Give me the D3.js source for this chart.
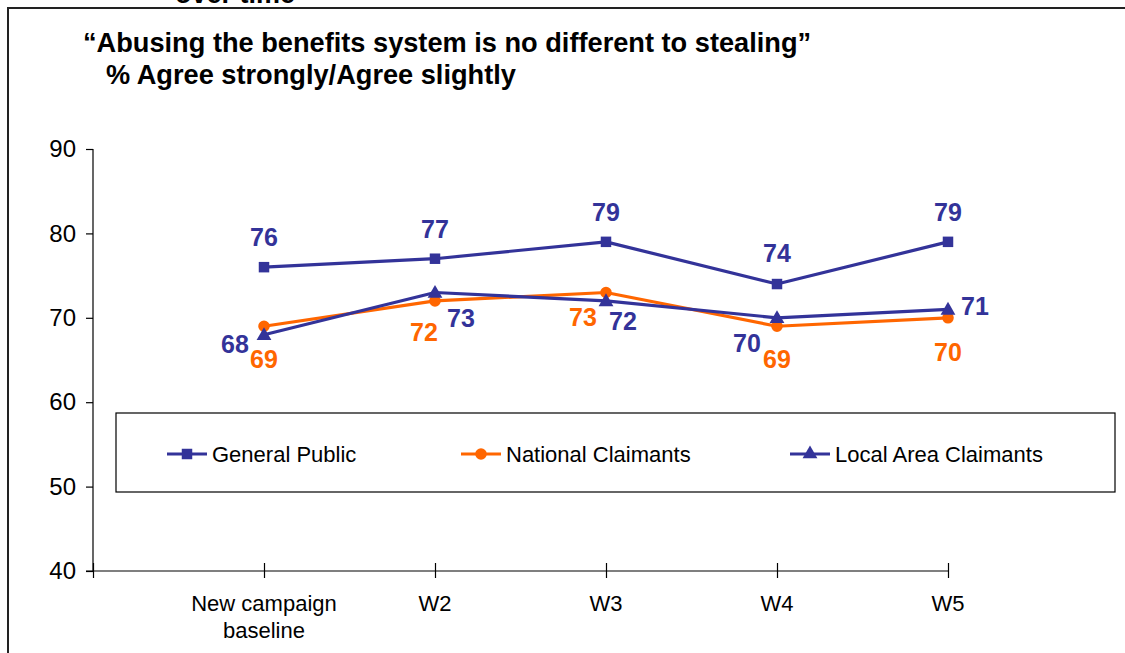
<!DOCTYPE html>
<html>
<head>
<meta charset="utf-8">
<script src="https://cdn.jsdelivr.net/npm/d3@7"></script>
<style>
  html, body { margin: 0; padding: 0; background: #fff; }
  svg { display: block; }
  text { font-family: "Liberation Sans", Arial, sans-serif; }
</style>
</head>
<body>
<svg id="chart" width="1125" height="653"></svg>
<script>
// Survey waves and % agreeing per audience
const categories = ["New campaign baseline", "W2", "W3", "W4", "W5"];
const generalPublic = [76, 77, 79, 74, 79];
const nationalClaimants = [69, 72, 73, 69, 70];
const localAreaClaimants = [68, 73, 72, 70, 71];
const yTicks = [40, 50, 60, 70, 80, 90];
const seriesNames = ["General Public", "National Claimants", "Local Area Claimants"];

// Label placement offsets (dx, dy) relative to each point
const gpLabelOffsets = [[0, -30], [0, -30], [0, -30], [0, -31], [0, -30]];
const ncLabelOffsets = [[0, 33], [-11, 31], [-23, 25], [0, 33], [0, 34]];
const laLabelOffsets = [[-29, 9], [26, 26], [17, 20], [-30, 25], [27, -3]];

const NAVY = "#333399";
const ORANGE = "#FF6600";

const svg = d3.select("#chart");

// Slide frame and the clipped heading above it
svg.append("text")
  .attr("x", 175).attr("y", 3)
  .attr("font-size", 27).attr("font-weight", "bold")
  .attr("fill", "#000")
  .text("over time");

svg.append("rect")
  .attr("x", 8).attr("y", 8)
  .attr("width", 1130).attr("height", 660)
  .attr("fill", "none").attr("stroke", "#222").attr("stroke-width", 2);

// Chart titles
svg.append("text")
  .attr("x", 83).attr("y", 52)
  .attr("font-size", 27.2).attr("font-weight", "bold")
  .text("\u201CAbusing the benefits system is no different to stealing\u201D");
svg.append("text")
  .attr("x", 106).attr("y", 84)
  .attr("font-size", 27.2).attr("font-weight", "bold")
  .text("% Agree strongly/Agree slightly");

// Scales: slot 0 is the empty leading position on the category axis
const x = d3.scaleLinear().domain([0, categories.length]).range([93, 948]);
const y = d3.scaleLinear().domain([40, 90]).range([571, 149]);

// Y axis
const yAxis = svg.append("g")
  .attr("transform", "translate(93,0)")
  .call(d3.axisLeft(y).tickValues(yTicks).tickSize(7).tickPadding(10));
yAxis.selectAll("path, line").attr("stroke", "#000").attr("stroke-width", 1.2);
yAxis.select(".domain").attr("d", `M0,${y(90)}V${y(40)}`);
yAxis.selectAll("text")
  .attr("font-size", 24).attr("fill", "#000")
  .attr("font-family", "'Liberation Sans', Arial, sans-serif");

// X axis
const xTickVals = d3.range(0, categories.length + 1);
const xAxis = svg.append("g")
  .attr("transform", `translate(0,${y(40)})`)
  .call(d3.axisBottom(x).tickValues(xTickVals).tickSize(7).tickFormat(() => ""));
xAxis.selectAll("path, line").attr("stroke", "#000").attr("stroke-width", 1.2);
xAxis.select(".domain").attr("d", `M86,0H${x(categories.length)}`);
xAxis.selectAll(".tick line").attr("y1", -8).attr("y2", 7);

// Category labels
categories.forEach((c, i) => {
  const lines = c === "New campaign baseline" ? ["New campaign", "baseline"] : [c];
  const t = svg.append("text")
    .attr("text-anchor", "middle")
    .attr("font-size", 22)
    .attr("fill", "#000");
  lines.forEach((ln, j) => {
    t.append("tspan").attr("x", x(i + 1)).attr("y", 611 + j * 27).text(ln);
  });
});

// Legend box (drawn beneath the lines)
const legend = svg.append("g");
legend.append("rect")
  .attr("x", 116).attr("y", 413)
  .attr("width", 999).attr("height", 79)
  .attr("fill", "#fff").attr("stroke", "#000").attr("stroke-width", 1.2);

const symbolFor = {
  square: d3.symbol().type(d3.symbolSquare).size(110),
  circle: d3.symbol().type(d3.symbolCircle).size(105),
  triangle: d3.symbol().type(d3.symbolTriangle).size(95)
};

const series = [
  { name: seriesNames[0], values: generalPublic, color: NAVY, shape: "square", offsets: gpLabelOffsets, lx: 167 },
  { name: seriesNames[1], values: nationalClaimants, color: ORANGE, shape: "circle", offsets: ncLabelOffsets, lx: 461 },
  { name: seriesNames[2], values: localAreaClaimants, color: NAVY, shape: "triangle", offsets: laLabelOffsets, lx: 790 }
];

// Legend entries
series.forEach(s => {
  const ly = 454;
  legend.append("line")
    .attr("x1", s.lx).attr("x2", s.lx + 40)
    .attr("y1", ly).attr("y2", ly)
    .attr("stroke", s.color).attr("stroke-width", 3);
  legend.append("path")
    .attr("d", symbolFor[s.shape]())
    .attr("transform", `translate(${s.lx + 20},${ly})`)
    .attr("fill", s.color);
  legend.append("text")
    .attr("x", s.lx + 45).attr("y", ly + 8)
    .attr("font-size", 22).attr("fill", "#000")
    .text(s.name);
});

// Lines, markers, and value labels
const line = d3.line().x((d, i) => x(i + 1)).y(d => y(d));

series.forEach(s => {
  svg.append("path")
    .datum(s.values)
    .attr("d", line)
    .attr("fill", "none")
    .attr("stroke", s.color)
    .attr("stroke-width", 3.2)
    .attr("stroke-linejoin", "round");
});

series.forEach(s => {
  svg.append("g").selectAll("path")
    .data(s.values)
    .join("path")
    .attr("d", symbolFor[s.shape]())
    .attr("transform", (d, i) => `translate(${x(i + 1)},${y(d) + (s.shape === "triangle" ? 1 : 0)})`)
    .attr("fill", s.color);
});

series.forEach(s => {
  svg.append("g").selectAll("text")
    .data(s.values)
    .join("text")
    .attr("x", (d, i) => x(i + 1) + s.offsets[i][0])
    .attr("y", (d, i) => y(d) + s.offsets[i][1])
    .attr("dy", "0.36em")
    .attr("text-anchor", "middle")
    .attr("font-size", 25)
    .attr("font-weight", "bold")
    .attr("fill", s.color)
    .text(d => d);
});
</script>
</body>
</html>
